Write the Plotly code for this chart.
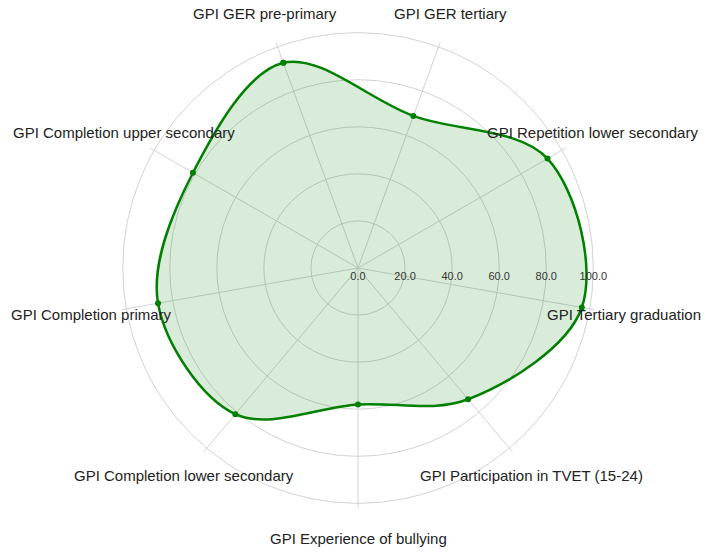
import math
import plotly.graph_objects as go

categories = [
    "GPI GER pre-primary",
    "GPI GER tertiary",
    "GPI Repetition lower secondary",
    "GPI Tertiary graduation",
    "GPI Participation in TVET (15-24)",
    "GPI Experience of bullying",
    "GPI Completion lower secondary",
    "GPI Completion primary",
    "GPI Completion upper secondary",
]
values = [92.8, 68.8, 93.0, 96.6, 72.8, 58.0, 81.1, 86.3, 81.0]
radial_ticks = [0, 20, 40, 60, 80, 100]

RMAX = 102
ROTATION = 110
LABEL_R = 115  # label radius in radial-axis units

theta_closed = categories + [categories[0]]
r_closed = values + [values[0]]

fig = go.Figure()
fig.add_trace(go.Scatterpolar(
    r=r_closed, theta=theta_closed,
    mode="lines+markers",
    line=dict(color="#008000", width=2.5, shape="spline", smoothing=1),
    marker=dict(color="#008000", size=6),
    fill="toself", fillcolor="rgba(0,128,0,0.15)",
    showlegend=False,
))

# category labels, placed along each category's angle (clockwise from ROTATION)
n = len(categories)
for i, cat in enumerate(categories):
    ang = math.radians(ROTATION - 360.0 / n * i)
    frac = LABEL_R / RMAX * 0.5
    fig.add_annotation(
        x=0.5 + frac * math.cos(ang), y=0.5 + frac * math.sin(ang),
        xref="paper", yref="paper", text=cat, showarrow=False,
        xanchor="center", yanchor="middle",
        font=dict(family="Liberation Sans, Arial, sans-serif", size=15, color="#222"),
    )

fig.update_layout(
    width=705, height=554,
    margin=dict(l=118, r=107, t=28, b=46),
    paper_bgcolor="white",
    font=dict(family="Liberation Sans, Arial, sans-serif", color="#333"),
    polar=dict(
        bgcolor="white",
        domain=dict(x=[0, 1], y=[0, 1]),
        radialaxis=dict(
            range=[0, RMAX], angle=0, tickvals=radial_ticks, tickformat=".1f",
            showline=False, ticks="", gridcolor="#d3d3d3", gridwidth=1,
            tickfont=dict(size=11, color="#333"),
        ),
        angularaxis=dict(
            rotation=ROTATION, direction="clockwise", showline=False,
            showticklabels=False, ticks="", gridcolor="#d3d3d3", gridwidth=1,
        ),
    ),
)

fig.write_html("out.html", config={"displayModeBar": False},
               post_script="document.body.style.margin='0';")
